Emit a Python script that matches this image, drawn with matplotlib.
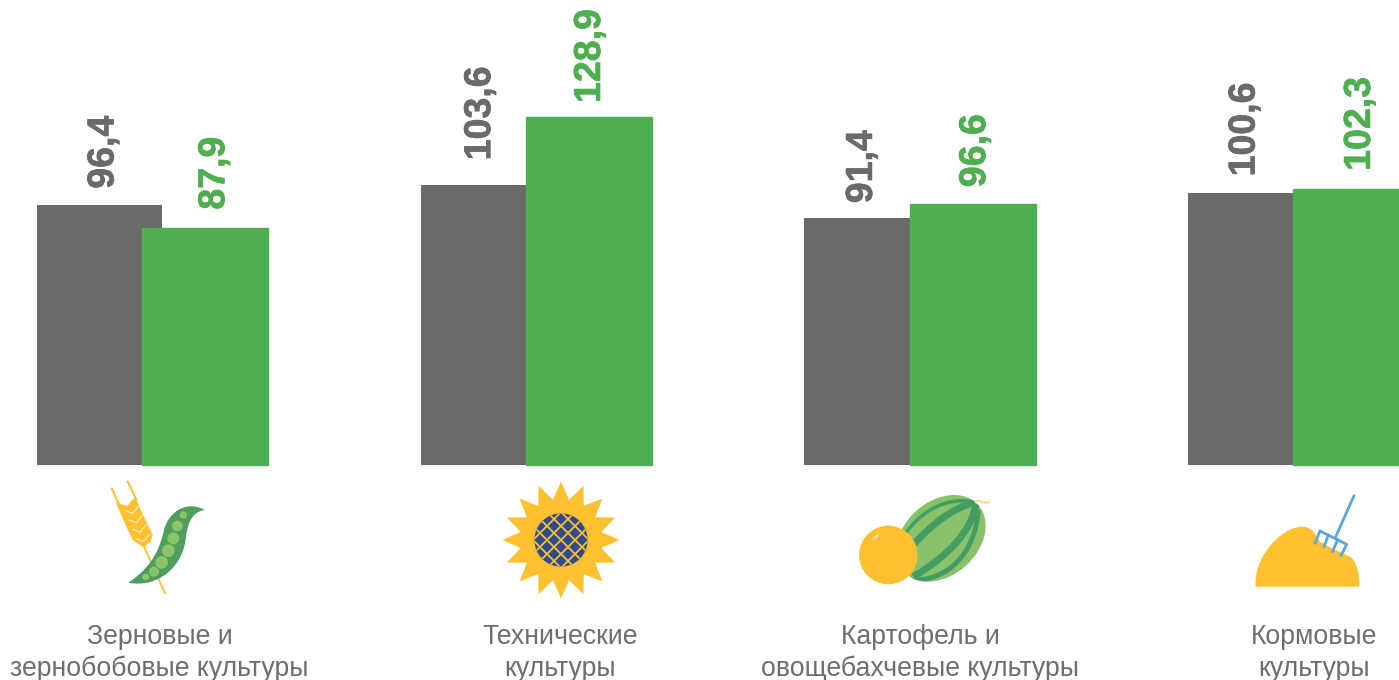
import numpy as np
import matplotlib
matplotlib.use("Agg")
import matplotlib.pyplot as plt
import matplotlib.patheffects as pe
from matplotlib.patches import Circle, Ellipse, PathPatch, Polygon
from matplotlib.path import Path

categories = [
    "Зерновые и\nзернобобовые культуры",
    "Технические\nкультуры",
    "Картофель и\nовощебахчевые культуры",
    "Кормовые\nкультуры",
]
grey_values = [96.4, 103.6, 91.4, 100.6]
green_values = [87.9, 128.9, 96.6, 102.3]
grey_labels = ["96,4", "103,6", "91,4", "100,6"]
green_labels = ["87,9", "128,9", "96,6", "102,3"]

GREY = "#6a6a6a"
GREEN = "#4fae50"
TEXT = "#6e6e6e"
YELLOW = "#fdc02f"
POD = "#4f9e5e"
PEA = "#8cc46a"
BLUE = "#2f4a8f"
FORK = "#5aa5dc"
DARK_MELON = "#459c62"
LIGHT_MELON = "#88c26b"

W, H = 1399, 680
BASE_Y = 465
PX_PER_UNIT = 2.70
GROUP_STEP = 383.7
FIRST_GROUP = 153

# label nudges in pixels, the labels are not placed evenly in the original
grey_dx = [4, -3, -5, -6]
green_dx = [9, 1, 2.5, 3.5]
grey_gap = [16, 25, 15, 17]
green_gap = [18, 14, 17, 18]

plt.rcParams["font.family"] = ["Liberation Sans", "DejaVu Sans"]

fig = plt.figure(figsize=(W / 100, H / 100), dpi=100, facecolor="white")

# bars sit on their own axes, baseline at the bottom edge
ax = fig.add_axes([0, (H - BASE_Y) / H, 1, BASE_Y / H])
ax.set_xlim(-FIRST_GROUP / GROUP_STEP, (W - FIRST_GROUP) / GROUP_STEP)
ax.set_ylim(0, BASE_Y / PX_PER_UNIT)
ax.axis("off")

x = np.arange(len(categories))
grey_w = 125 / GROUP_STEP
green_w = 126 / GROUP_STEP
grey_x = x - 116 / GROUP_STEP
green_x = x - 10.7 / GROUP_STEP
ax.bar(grey_x, grey_values, width=grey_w, align="edge", color=GREY, zorder=2)
bars = ax.bar(green_x, green_values, width=green_w, align="edge", color=GREEN,
              edgecolor=GREEN, linewidth=1.0, zorder=3)
for b in bars:
    b.set_clip_on(False)

PT = 72 / 100
for i in range(len(categories)):
    t1 = ax.annotate(grey_labels[i], (grey_x[i] + grey_w / 2, grey_values[i]),
                     xytext=(grey_dx[i] * PT, grey_gap[i] * PT), textcoords="offset points",
                     rotation=90, ha="center", va="bottom", fontsize=27, fontweight="bold",
                     color=GREY, annotation_clip=False)
    t2 = ax.annotate(green_labels[i], (green_x[i] + green_w / 2, green_values[i]),
                     xytext=(green_dx[i] * PT, green_gap[i] * PT), textcoords="offset points",
                     rotation=90, ha="center", va="bottom", fontsize=27, fontweight="bold",
                     color=GREEN, annotation_clip=False)
    # original digits are a touch heavier than Liberation bold
    t1.set_path_effects([pe.withStroke(linewidth=0.5, foreground=GREY)])
    t2.set_path_effects([pe.withStroke(linewidth=0.5, foreground=GREEN)])

# overlay in pixel coordinates for the captions and the little pictures
ov = fig.add_axes([0, 0, 1, 1], facecolor="none")
ov.set_xlim(0, W)
ov.set_ylim(H, 0)
ov.axis("off")

caption_x = [159.5, 560, 920, 1314.5]
for cx, cat in zip(caption_x, categories):
    top, bottom = cat.split("\n")
    ov.text(cx, 637, top, ha="center", va="center", fontsize=19.2, color=TEXT)
    ov.text(cx, 669, bottom, ha="center", va="center", fontsize=19.2, color=TEXT)


def to_px(points, x0, y0):
    return [(x0 + p[0] / 3, y0 + p[1] / 3) for p in points]


def curve(points, x0, y0, color, zorder=5):
    codes = [Path.MOVETO] + [Path.CURVE4] * (len(points) - 1)
    patch = PathPatch(Path(to_px(points, x0, y0), codes), fc=color, ec="none", zorder=zorder)
    ov.add_patch(patch)
    return patch


def line(p1, p2, x0, y0, color, lw, zorder=5):
    a, b = to_px([p1, p2], x0, y0)
    ov.plot([a[0], b[0]], [a[1], b[1]], color=color, lw=lw, zorder=zorder, solid_capstyle="round")


def draw_wheat_and_pea():
    x0, y0 = 90, 470
    for p1, p2 in [((113, 35), (140, 90)), ((65, 55), (88, 105)), ((160, 225), (225, 370))]:
        line(p1, p2, x0, y0, YELLOW, 1.4)
    head = [(78, 98), (112, 108), (135, 80), (155, 125), (188, 195), (182, 215),
            (160, 232), (128, 210), (100, 150)]
    ov.add_patch(Polygon(to_px(head, x0, y0), fc=YELLOW, ec="none", zorder=6))
    for dx, dy in [(0, 0), (11, 28), (22, 56), (33, 84)]:
        line((105 + dx, 122 + dy), (128 + dx, 130 + dy), x0, y0, "#fff3cf", 0.8, 7)
        line((128 + dx, 130 + dy), (146 + dx, 108 + dy), x0, y0, "#fff3cf", 0.8, 7)
    pod = [(115, 338), (165, 305), (205, 260), (222, 180), (235, 125), (290, 90), (345, 120),
           (310, 125), (295, 150), (288, 200), (280, 290), (205, 355), (115, 338)]
    curve(pod, x0, y0, POD, zorder=8)
    peas = [(280, 135, 11), (262, 168, 16), (250, 205, 18), (235, 242, 19),
            (215, 277, 19), (192, 305, 15), (167, 321, 10)]
    for px, py, r in peas:
        c = to_px([(px, py)], x0, y0)[0]
        ov.add_patch(Circle(c, r / 3, fc=PEA, ec="none", zorder=9))


def draw_sunflower():
    x0, y0 = 490, 470
    cx, cy = x0 + 213 / 3, y0 + 210 / 3
    n = 16
    ang = np.linspace(-np.pi / 2, 1.5 * np.pi, 2 * n, endpoint=False)
    rad = np.where(np.arange(2 * n) % 2 == 0, 58.5, 41)
    star = np.column_stack([cx + rad * np.cos(ang), cy + rad * np.sin(ang)])
    ov.add_patch(Polygon(star, fc=YELLOW, ec="none", zorder=5))
    disk = Circle((cx, cy), 26.6, fc=BLUE, ec="none", zorder=6)
    ov.add_patch(disk)
    for off in np.arange(-56, 57, 14):
        for sign in (1, -1):
            ln, = ov.plot([cx - 40, cx + 40], [cy + off - sign * 40, cy + off + sign * 40],
                          color=YELLOW, lw=1.3, zorder=7)
            ln.set_clip_path(disk)


def draw_melons():
    x0, y0 = 850, 480
    c = to_px([(273, 175)], x0, y0)[0]
    body = Ellipse(c, 2 * 50, 2 * 37, angle=-42, fc=LIGHT_MELON, ec="none", zorder=5)
    ov.add_patch(body)
    stripes = [
        ([(160, 170), (215, 85), (300, 50), (372, 66)], 2.5),
        ([(180, 205), (255, 120), (320, 80), (374, 68)], 5),
        ([(190, 290), (300, 225), (365, 150), (378, 72)], 5),
        ([(180, 300), (290, 305), (375, 225), (385, 90)], 3.5),
    ]
    for pts, lw in stripes:
        px = to_px(pts, x0, y0)
        path = Path(px, [Path.MOVETO, Path.CURVE4, Path.CURVE4, Path.CURVE4])
        s = PathPatch(path, fc="none", ec=DARK_MELON, lw=lw, zorder=6)
        ov.add_patch(s)
        s.set_clip_path(body)
    stem = [(372, 68), (385, 52), (398, 75), (420, 65)]
    ov.add_patch(PathPatch(Path(to_px(stem, x0, y0), [Path.MOVETO, Path.CURVE4, Path.CURVE4, Path.CURVE4]),
                           fc="none", ec="#f5d77a", lw=1.3, zorder=5))
    orange = to_px([(115, 225)], x0, y0)[0]
    ov.add_patch(Circle(orange, 29.3, fc=YELLOW, ec="none", zorder=8))
    shine = to_px([(77, 171)], x0, y0)[0]
    ov.add_patch(Ellipse(shine, 8, 3, angle=-35, fc="#fbdc8c", ec="none", zorder=9))


def draw_hay():
    x0, y0 = 1240, 485
    pile = [(47, 305), (40, 210), (130, 125), (185, 125), (215, 125), (225, 145), (240, 170),
            (270, 190), (300, 200), (330, 215), (350, 230), (358, 260), (358, 305), (250, 305),
            (150, 305), (47, 305)]
    curve(pile, x0, y0, YELLOW)
    line((342, 32), (285, 160), x0, y0, FORK, 2, 6)
    line((240, 138), (320, 178), x0, y0, FORK, 2, 6)
    for p1, p2 in [((240, 138), (225, 175)), ((265, 150), (252, 185)),
                   ((293, 163), (278, 200)), ((320, 178), (303, 212))]:
        line(p1, p2, x0, y0, FORK, 2, 6)


draw_wheat_and_pea()
draw_sunflower()
draw_melons()
draw_hay()

fig.savefig("out.png", dpi=100, facecolor="white")
